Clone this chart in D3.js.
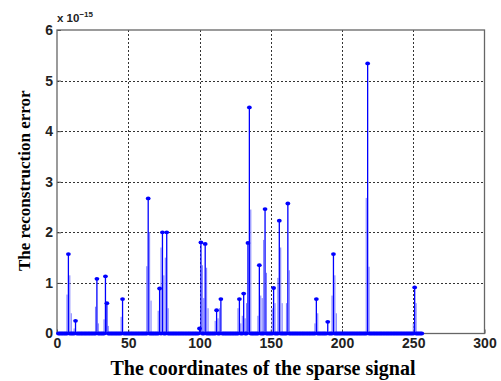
<!DOCTYPE html>
<html>
<head>
<meta charset="utf-8">
<script src="https://cdn.jsdelivr.net/npm/d3@7"></script>
<style>
  body { margin: 0; background: #fff; }
  svg { display: block; }
</style>
</head>
<body>
<svg id="chart" width="501" height="381"></svg>
<script>
// ---- data ----
const signalLength = 256;
// indices with a visible marker (non-zero reconstruction error), in units of 1e-15
const peakIdx = [8, 13, 28, 34, 35, 46, 64, 72, 74, 77, 100, 101, 104, 112, 115, 128, 131, 134, 135, 142, 146, 152, 156, 162, 182, 190, 194, 218, 251];
const peakVal = [1.57, 0.25, 1.08, 1.13, 0.6, 0.68, 2.67, 0.89, 2.0, 2.0, 0.1, 1.8, 1.77, 0.46, 0.68, 0.68, 0.79, 1.79, 4.47, 1.35, 2.46, 0.9, 2.23, 2.57, 0.68, 0.23, 1.57, 5.34, 0.91];
// faint neighbouring stems seen around the peaks
const shoulderIdx = [7, 9, 10, 12, 27, 29, 33, 36, 45, 63, 65, 66, 71, 73, 75, 76, 78, 102, 103, 105, 106, 111, 113, 114, 127, 129, 130, 132, 133, 136, 141, 143, 144, 145, 147, 151, 153, 155, 157, 158, 161, 163, 181, 183, 193, 195, 196, 217, 219, 250, 252];
const shoulderVal = [0.77, 1.15, 0.4, 0.1, 0.53, 0.2, 0.28, 0.15, 0.33, 1.33, 2.0, 0.65, 0.45, 1.7, 1.15, 1.5, 0.5, 1.35, 0.7, 1.3, 0.5, 0.25, 0.3, 0.5, 0.5, 0.2, 0.35, 0.3, 0.6, 2.45, 0.35, 0.75, 0.7, 1.85, 1.2, 0.5, 0.6, 1.1, 1.7, 0.6, 0.6, 1.25, 0.2, 0.4, 0.75, 1.15, 0.4, 2.68, 1.32, 0.2, 0.6];
const xTicks = [0, 50, 100, 150, 200, 250, 300];
const yTicks = [0, 1, 2, 3, 4, 5, 6];
const xLabel = "The coordinates of the sparse signal";
const yLabel = "The reconstruction error";

(function () {
// ---- build series ----
const values = d3.range(1, signalLength + 1).map(i => {
  const k = peakIdx.indexOf(i);
  return { i, v: k >= 0 ? peakVal[k] : 0 };
});
const shoulders = shoulderIdx.map((i, k) => ({ i, v: shoulderVal[k] }));

// ---- layout ----
const svg = d3.select("#chart");
const pl = 57, pr = 484.5, pt = 30, pb = 333.5;
const x = d3.scaleLinear().domain([0, 300]).range([pl, pr]);
const y = d3.scaleLinear().domain([0, 6]).range([pb, pt]);

const blue = "#0000ff";
const tickFont = "'Liberation Sans', Arial, sans-serif";
const labelFont = "'Liberation Serif', 'Times New Roman', serif";

// grid
const grid = svg.append("g");
grid.selectAll("line.gx").data(xTicks.slice(1, -1)).enter().append("line")
  .attr("x1", d => Math.round(x(d)) + 0.5).attr("x2", d => Math.round(x(d)) + 0.5)
  .attr("y1", pt).attr("y2", pb)
  .attr("stroke", "#333").attr("stroke-width", 1).attr("stroke-dasharray", "2,2");
grid.selectAll("line.gy").data(yTicks.slice(1, -1)).enter().append("line")
  .attr("y1", d => Math.round(y(d)) + 0.5).attr("y2", d => Math.round(y(d)) + 0.5)
  .attr("x1", pl).attr("x2", pr)
  .attr("stroke", "#333").attr("stroke-width", 1).attr("stroke-dasharray", "2,2");

// axes (ticks inside, MATLAB style)
const xAxis = d3.axisBottom(x).tickValues(xTicks).tickSize(-4).tickPadding(5).tickFormat(d3.format("d"));
const yAxis = d3.axisLeft(y).tickValues(yTicks).tickSize(-4).tickPadding(4).tickFormat(d3.format("d"));
const gx = svg.append("g").attr("transform", `translate(0,${pb})`).call(xAxis);
const gy = svg.append("g").attr("transform", `translate(${pl},0)`).call(yAxis);
[gx, gy].forEach(g => {
  g.select(".domain").remove();
  g.selectAll(".tick line").attr("stroke", "#444");
  g.selectAll(".tick text").attr("font-family", tickFont).attr("font-weight", "bold")
    .attr("font-size", 14).attr("fill", "#222");
});

// frame
svg.append("rect").attr("x", pl).attr("y", pt).attr("width", pr - pl).attr("height", pb - pt)
  .attr("fill", "none").attr("stroke", "#666").attr("stroke-width", 1.3);

// exponent label
const expo = svg.append("text").attr("x", pl).attr("y", pt - 8)
  .attr("font-family", tickFont).attr("font-weight", "bold").attr("font-size", 11.5).attr("fill", "#222");
expo.append("tspan").text("x 10");
expo.append("tspan").attr("dy", -5).attr("font-size", 8).text("\u221215");

// faint shoulder stems
svg.append("g").selectAll("line").data(shoulders).enter().append("line")
  .attr("x1", d => x(d.i)).attr("x2", d => x(d.i))
  .attr("y1", y(0)).attr("y2", d => y(d.v))
  .attr("stroke", "#7878ff").attr("stroke-width", 1);

// stems
svg.append("g").selectAll("line").data(values.filter(d => d.v > 0)).enter().append("line")
  .attr("x1", d => x(d.i)).attr("x2", d => x(d.i))
  .attr("y1", y(0)).attr("y2", d => y(d.v))
  .attr("stroke", blue).attr("stroke-width", 1.3);

// baseline of stems
svg.append("line").attr("x1", x(1)).attr("x2", x(signalLength))
  .attr("y1", y(0)).attr("y2", y(0)).attr("stroke", blue).attr("stroke-width", 1.5);

// markers
svg.append("g").selectAll("ellipse").data(values).enter().append("ellipse")
  .attr("cx", d => x(d.i)).attr("cy", d => y(d.v)).attr("rx", 2.4).attr("ry", 1.9)
  .attr("fill", blue);

// axis labels
svg.append("text").attr("x", 263).attr("y", 375)
  .attr("text-anchor", "middle").attr("font-family", labelFont).attr("font-weight", "bold")
  .attr("font-size", 20).attr("fill", "#000").text(xLabel);
svg.append("text").attr("transform", `translate(30,${(pt + pb) / 2 - 1}) rotate(-90)`)
  .attr("text-anchor", "middle").attr("font-family", labelFont).attr("font-weight", "bold")
  .attr("font-size", 17).attr("fill", "#000").text(yLabel);
})();
</script>
</body>
</html>
